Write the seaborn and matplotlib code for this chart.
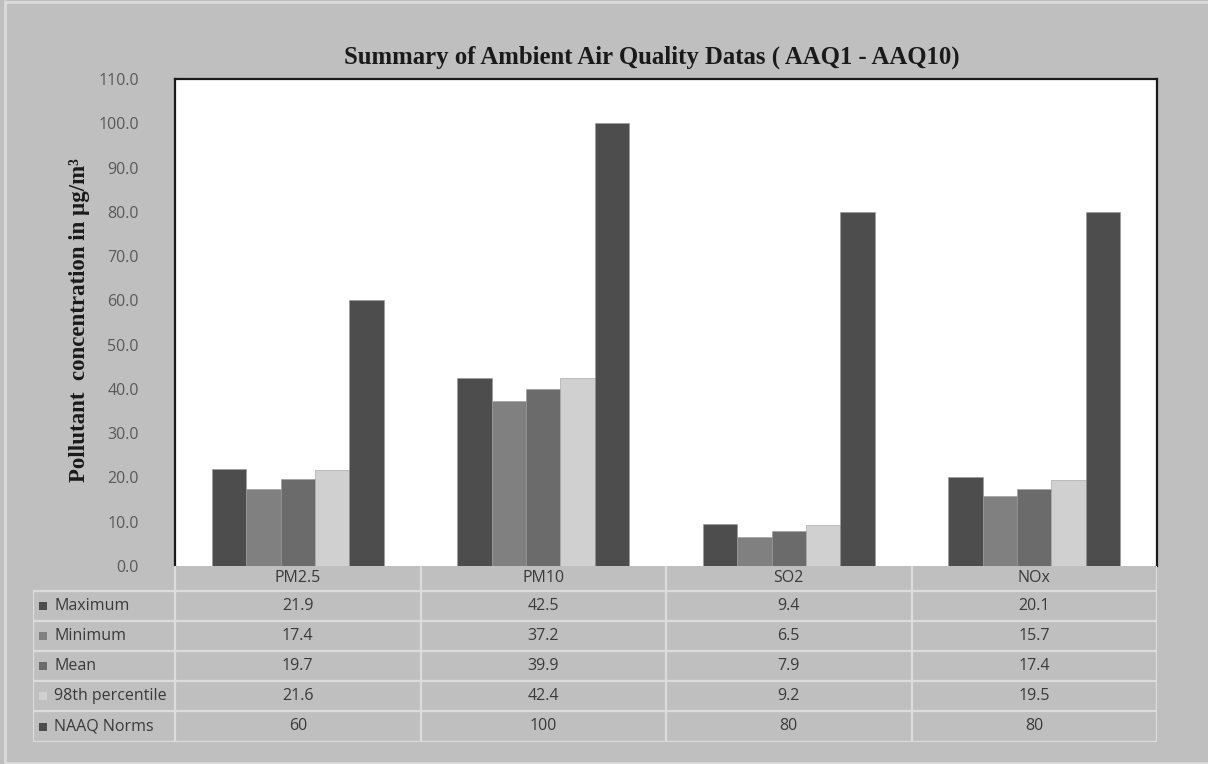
import matplotlib
matplotlib.use("Agg")
import matplotlib.pyplot as plt
import pandas as pd
import seaborn as sns
from matplotlib.patches import Rectangle
from matplotlib.lines import Line2D

# data
pollutants = ["PM2.5", "PM10", "SO2", "NOx"]
stats = ["Maximum", "Minimum", "Mean", "98th percentile", "NAAQ Norms"]
maximum = [21.9, 42.5, 9.4, 20.1]
minimum = [17.4, 37.2, 6.5, 15.7]
mean = [19.7, 39.9, 7.9, 17.4]
pct98 = [21.6, 42.4, 9.2, 19.5]
naaq = [60, 100, 80, 80]
table_text = [
    ["21.9", "42.5", "9.4", "20.1"],
    ["17.4", "37.2", "6.5", "15.7"],
    ["19.7", "39.9", "7.9", "17.4"],
    ["21.6", "42.4", "9.2", "19.5"],
    ["60", "100", "80", "80"],
]
colors = ["#4d4d4d", "#808080", "#6b6b6b", "#d0d0d0", "#4d4d4d"]

series = [maximum, minimum, mean, pct98, naaq]
rows = []
for s, vals in zip(stats, series):
    for p, v in zip(pollutants, vals):
        rows.append({"pollutant": p, "stat": s, "value": v})
df = pd.DataFrame(rows)

sns.set_style("white")
plt.rcParams["font.family"] = ["Open Sans", "DejaVu Sans"]

W, H = 1208, 764
fig = plt.figure(figsize=(W / 100, H / 100), dpi=100)
fig.patch.set_facecolor("#bfbfbf")
# light frame on top, left and bottom of the figure
border_c = "#dadada"
fig.lines.append(Line2D([5 / W, 5 / W], [1 / H, 1 - 1 / H], transform=fig.transFigure,
                        color=border_c, lw=2))
fig.lines.append(Line2D([5 / W, 1], [1 - 1.5 / H, 1 - 1.5 / H], transform=fig.transFigure,
                        color=border_c, lw=2))
fig.lines.append(Line2D([5 / W, 1], [1.5 / H, 1.5 / H], transform=fig.transFigure,
                        color=border_c, lw=2))

ax_left, ax_right, ax_top, ax_bot = 175, 1157, 79, 566
ax = fig.add_axes([ax_left / W, 1 - ax_bot / H, (ax_right - ax_left) / W,
                   (ax_bot - ax_top) / H])
sns.barplot(data=df, x="pollutant", y="value", hue="stat", palette=colors,
            hue_order=stats, order=pollutants, width=0.7, saturation=1,
            edgecolor="#9a9a9a", linewidth=0.4, legend=False, ax=ax)
ax.set_xlim(-0.5, len(pollutants) - 0.5)
ax.set_ylim(0, 110)
ax.set_yticks([i * 10 for i in range(12)])
ax.set_yticklabels([f"{i * 10:.1f}" for i in range(12)], fontsize=11.5,
                   color="#595959")
ax.tick_params(axis="y", length=0, pad=26)
ax.set_xticks([])
ax.set_xlabel("")
ax.set_ylabel("")
ax.set_facecolor("white")
for side in ["left", "top", "right"]:
    ax.spines[side].set_color("#1a1a1a")
    ax.spines[side].set_linewidth(1.6)
ax.spines["bottom"].set_visible(False)

fig.text(652 / W, 1 - 57 / H, "Summary of Ambient Air Quality Datas ( AAQ1 - AAQ10)",
         ha="center", va="center", fontsize=17.8, fontweight="bold",
         family=["Liberation Serif", "DejaVu Serif"], color="#1a1a1a")
fig.text(80 / W, 1 - 320 / H, "Pollutant  concentration in µg/m³",
         ha="center", va="center", rotation=90, fontsize=16.5, fontweight="bold",
         family=["Liberation Serif", "DejaVu Serif"], color="#1a1a1a")

# data table below the plot
tab_left = 33
tab = fig.add_axes([tab_left / W, 1 - 742 / H, (ax_right - tab_left) / W,
                    (742 - ax_bot) / H])
tab.set_xlim(tab_left, ax_right)
tab.set_ylim(742, ax_bot)
tab.axis("off")
line_c = "#dcdcdc"
col_w = (ax_right - ax_left) / len(pollutants)
row_edges = [566, 591, 621, 651, 681, 711, 742]
col_edges = [ax_left + i * col_w for i in range(len(pollutants) + 1)]
for y in row_edges[1:]:
    tab.plot([tab_left, ax_right], [y, y], color=line_c, lw=1.6)
for x in col_edges:
    tab.plot([x, x], [row_edges[0], row_edges[-1]], color=line_c, lw=1.6)
tab.plot([tab_left, tab_left], [row_edges[1], row_edges[-1]], color=line_c, lw=1.6)
txt_c = "#3a3a3a"
for j, p in enumerate(pollutants):
    tab.text((col_edges[j] + col_edges[j + 1]) / 2, (row_edges[0] + row_edges[1]) / 2,
             p, ha="center", va="center", fontsize=11.5, color=txt_c)
for i, s in enumerate(stats):
    yc = (row_edges[i + 1] + row_edges[i + 2]) / 2
    tab.add_patch(Rectangle((39, yc - 4), 8, 8, facecolor=colors[i],
                            edgecolor="none"))
    tab.text(54, yc, s, ha="left", va="center", fontsize=11.5, color=txt_c)
    for j in range(len(pollutants)):
        tab.text((col_edges[j] + col_edges[j + 1]) / 2, yc, table_text[i][j],
                 ha="center", va="center", fontsize=11.5, color=txt_c)

fig.savefig("out.png", dpi=100, facecolor=fig.get_facecolor())
